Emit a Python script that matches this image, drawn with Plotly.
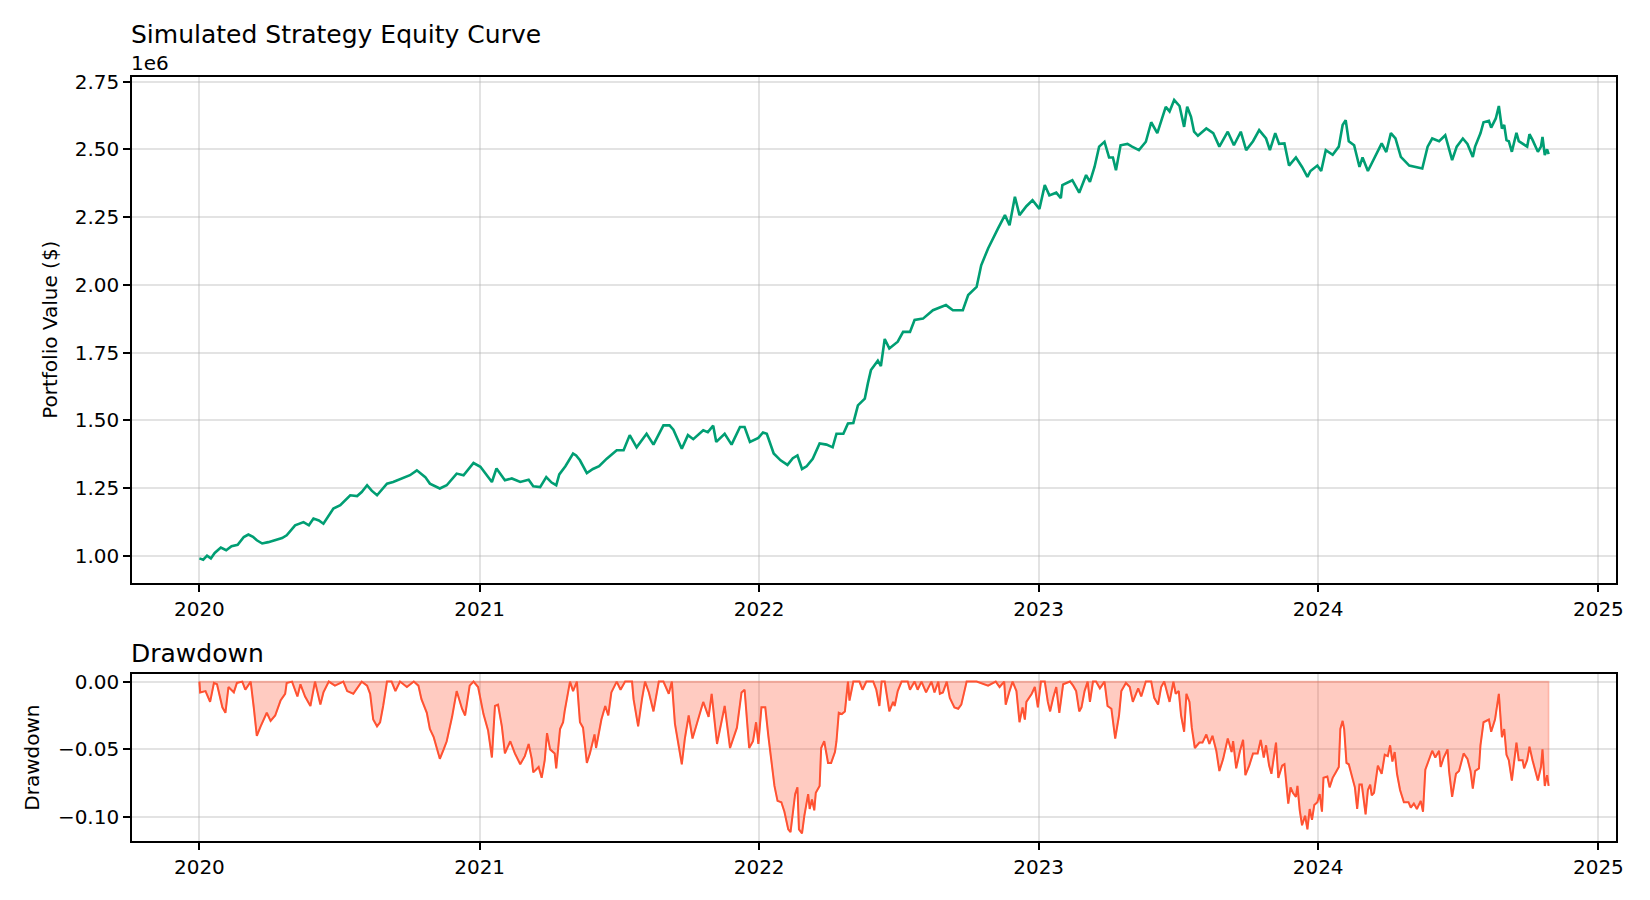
import pandas as pd
import plotly.graph_objects as go
from plotly.subplots import make_subplots

# equity curve: days since 2020-01-01, value in $M
eq_days = [0, 5, 10, 15, 20, 28, 35, 42, 50, 58, 64, 70, 75, 82, 90, 101, 108, 114, 125, 136,
           143, 149, 156, 162, 175, 184, 197, 206, 212, 219, 225, 232, 245, 253, 264, 275, 284, 290, 295, 301,
           308, 314, 323, 336, 345, 352, 358, 367, 375, 382, 388, 394, 399, 408, 419, 430, 436, 445, 453, 460,
           466, 470, 478, 488, 492, 497, 506, 514, 522, 532, 545, 554, 562, 571, 584, 593, 606, 614, 619, 630,
           638, 645, 658, 664, 671, 675, 686, 695, 706, 712, 719, 730, 736, 741, 750, 759, 768, 775, 781, 787,
           793, 801, 810, 819, 827, 832, 841, 847, 854, 860, 869, 873, 877, 886, 890, 895, 901, 912, 919, 928,
           934, 945, 958, 975, 984, 997, 1004, 1015, 1021, 1030, 1036, 1043, 1052, 1058, 1065, 1071, 1080, 1088, 1097, 1104,
           1110, 1119, 1125, 1127, 1140, 1149, 1158, 1163, 1169, 1175, 1182, 1188, 1193, 1197, 1203, 1212, 1218, 1227, 1236, 1243,
           1251, 1262, 1267, 1273, 1280, 1286, 1290, 1295, 1299, 1304, 1315, 1324, 1332, 1343, 1351, 1360, 1367, 1376, 1384, 1393,
           1398, 1405, 1410, 1417, 1423, 1432, 1440, 1447, 1451, 1460, 1465, 1471, 1480, 1488, 1493, 1497, 1501, 1508, 1515, 1519,
           1526, 1536, 1544, 1550, 1556, 1562, 1569, 1580, 1589, 1597, 1604, 1610, 1619, 1627, 1636, 1642, 1650, 1656, 1663, 1666,
           1673, 1677, 1684, 1687, 1693, 1697, 1701, 1704, 1707, 1710, 1714, 1720, 1723, 1728, 1734, 1737, 1741, 1748, 1752, 1754,
           1757, 1760, 1762]
eq_vals = [0.990, 0.985, 1.000, 0.990, 1.010, 1.030, 1.020, 1.035, 1.040, 1.069, 1.078, 1.070, 1.057, 1.045, 1.050, 1.059, 1.065, 1.075, 1.112, 1.124,
           1.112, 1.137, 1.130, 1.118, 1.174, 1.186, 1.223, 1.220, 1.235, 1.260, 1.240, 1.223, 1.266, 1.272, 1.285, 1.297, 1.315, 1.300, 1.290, 1.266,
           1.255, 1.248, 1.260, 1.303, 1.297, 1.320, 1.342, 1.328, 1.300, 1.272, 1.322, 1.300, 1.278, 1.285, 1.272, 1.280, 1.256, 1.253, 1.290, 1.270,
           1.260, 1.300, 1.330, 1.377, 1.370, 1.352, 1.305, 1.320, 1.330, 1.358, 1.389, 1.389, 1.445, 1.400, 1.450, 1.410, 1.481, 1.481, 1.465, 1.395,
           1.445, 1.430, 1.463, 1.456, 1.480, 1.420, 1.450, 1.410, 1.475, 1.475, 1.420, 1.435, 1.455, 1.450, 1.377, 1.352, 1.335, 1.360, 1.370, 1.320,
           1.330, 1.358, 1.414, 1.410, 1.400, 1.450, 1.450, 1.488, 1.490, 1.555, 1.580, 1.636, 1.685, 1.720, 1.700, 1.800, 1.765, 1.790, 1.826, 1.826,
           1.870, 1.875, 1.906, 1.925, 1.906, 1.906, 1.962, 1.992, 2.072, 2.134, 2.171, 2.208, 2.257, 2.220, 2.325, 2.257, 2.290, 2.312, 2.280, 2.368,
           2.330, 2.340, 2.320, 2.368, 2.386, 2.340, 2.405, 2.380, 2.435, 2.510, 2.528, 2.470, 2.470, 2.423, 2.515, 2.520, 2.510, 2.497, 2.528, 2.600,
           2.560, 2.657, 2.640, 2.682, 2.660, 2.583, 2.657, 2.620, 2.565, 2.550, 2.577, 2.560, 2.510, 2.565, 2.515, 2.565, 2.497, 2.530, 2.571, 2.540,
           2.497, 2.560, 2.520, 2.522, 2.440, 2.470, 2.435, 2.398, 2.420, 2.440, 2.420, 2.497, 2.480, 2.510, 2.590, 2.608, 2.530, 2.515, 2.435, 2.470,
           2.420, 2.480, 2.522, 2.490, 2.560, 2.540, 2.472, 2.440, 2.435, 2.429, 2.510, 2.540, 2.530, 2.552, 2.460, 2.510, 2.540, 2.520, 2.472, 2.510,
           2.559, 2.600, 2.605, 2.580, 2.614, 2.660, 2.577, 2.590, 2.534, 2.530, 2.491, 2.561, 2.530, 2.520, 2.510, 2.556, 2.535, 2.491, 2.510, 2.546,
           2.479, 2.500, 2.482]

# drawdown: days since 2020-01-01, fraction below peak
dd_days = [0, 1, 8, 14, 19, 23, 30, 34, 38, 45, 49, 56, 60, 67, 71, 75, 80, 88, 93, 99,
           106, 112, 114, 121, 128, 132, 138, 145, 151, 158, 162, 169, 177, 188, 193, 201, 212, 219, 223, 227,
           232, 236, 240, 245, 251, 256, 262, 271, 280, 286, 290, 297, 301, 306, 310, 314, 319, 323, 330, 336,
           343, 347, 353, 358, 364, 371, 377, 382, 386, 390, 395, 399, 406, 412, 419, 425, 430, 434, 436, 443,
           447, 451, 454, 458, 464, 466, 471, 475, 477, 484, 488, 493, 497, 501, 506, 510, 516, 518, 525, 530,
           534, 538, 545, 550, 556, 565, 567, 573, 578, 582, 587, 593, 600, 606, 613, 617, 621, 630, 634, 639,
           644, 652, 658, 665, 669, 676, 680, 686, 693, 702, 708, 712, 718, 723, 727, 730, 734, 739, 743, 747,
           751, 755, 760, 764, 769, 772, 775, 778, 781, 783, 787, 790, 795, 797, 800, 803, 805, 810, 812, 816,
           821, 825, 830, 832, 835, 839, 843, 847, 849, 854, 862, 866, 871, 880, 884, 888, 891, 895, 901, 906,
           908, 912, 917, 925, 928, 934, 938, 943, 949, 956, 960, 965, 967, 971, 976, 980, 986, 991, 995, 999,
           1002, 1015, 1030, 1040, 1045, 1051, 1053, 1058, 1062, 1067, 1071, 1075, 1078, 1080, 1087, 1091, 1095, 1099, 1104, 1108,
           1111, 1115, 1119, 1123, 1128, 1137, 1141, 1145, 1149, 1152, 1156, 1160, 1163, 1167, 1171, 1176, 1182, 1186, 1191, 1196,
           1201, 1204, 1210, 1215, 1219, 1226, 1230, 1236, 1243, 1247, 1252, 1256, 1260, 1267, 1272, 1275, 1279, 1282, 1286, 1289,
           1293, 1296, 1300, 1306, 1310, 1315, 1319, 1323, 1328, 1332, 1337, 1343, 1348, 1350, 1354, 1359, 1363, 1366, 1371, 1376,
           1382, 1386, 1390, 1393, 1397, 1400, 1404, 1406, 1409, 1414, 1417, 1420, 1422, 1425, 1428, 1432, 1434, 1437, 1440, 1444,
           1447, 1450, 1453, 1456, 1460, 1463, 1466, 1468, 1473, 1476, 1480, 1484, 1488, 1490, 1493, 1495, 1498, 1501, 1506, 1509,
           1512, 1515, 1518, 1523, 1526, 1529, 1531, 1534, 1539, 1544, 1548, 1552, 1555, 1558, 1561, 1564, 1568, 1573, 1579, 1582,
           1586, 1590, 1595, 1598, 1601, 1604, 1610, 1614, 1619, 1621, 1625, 1630, 1632, 1636, 1641, 1645, 1651, 1656, 1660, 1663,
           1666, 1671, 1673, 1677, 1684, 1687, 1692, 1697, 1701, 1704, 1707, 1710, 1714, 1720, 1723, 1728, 1730, 1734, 1737, 1741,
           1748, 1752, 1754, 1757, 1760, 1762]
dd_vals = [0.000, -0.008, -0.007, -0.015, -0.001, -0.002, -0.019, -0.023, -0.004, -0.008, -0.001, 0.000, -0.006, 0.000, -0.019, -0.040, -0.033, -0.023, -0.029, -0.025,
           -0.014, -0.009, -0.001, 0.000, -0.011, -0.002, -0.011, -0.018, 0.000, -0.017, -0.008, 0.000, -0.003, 0.000, -0.007, -0.009, 0.000, -0.003, -0.009, -0.028,
           -0.033, -0.030, -0.018, 0.000, 0.000, -0.007, 0.000, -0.004, 0.000, -0.003, -0.013, -0.023, -0.035, -0.041, -0.049, -0.057, -0.050, -0.044, -0.026, -0.007,
           -0.020, -0.025, -0.003, 0.000, -0.004, -0.024, -0.036, -0.056, -0.018, -0.017, -0.033, -0.053, -0.044, -0.053, -0.061, -0.055, -0.046, -0.057, -0.067, -0.063,
           -0.071, -0.058, -0.038, -0.050, -0.053, -0.064, -0.035, -0.030, -0.022, 0.000, -0.007, 0.000, -0.030, -0.034, -0.060, -0.053, -0.039, -0.049, -0.028, -0.018,
           -0.025, -0.008, 0.000, -0.006, 0.000, 0.000, -0.013, -0.033, -0.013, 0.000, -0.008, -0.022, 0.000, 0.000, -0.009, 0.000, -0.031, -0.061, -0.042, -0.025,
           -0.042, -0.026, -0.015, -0.026, -0.009, -0.046, -0.035, -0.018, -0.049, -0.034, -0.008, -0.006, -0.049, -0.044, -0.030, -0.046, -0.019, -0.019, -0.040, -0.059,
           -0.077, -0.088, -0.089, -0.096, -0.109, -0.111, -0.098, -0.083, -0.078, -0.109, -0.112, -0.099, -0.083, -0.094, -0.087, -0.095, -0.082, -0.077, -0.049, -0.044,
           -0.060, -0.060, -0.052, -0.044, -0.023, -0.024, -0.022, 0.000, -0.014, 0.000, 0.000, -0.006, 0.000, 0.000, -0.006, -0.018, 0.000, 0.000, -0.022, -0.015,
           -0.018, -0.007, 0.000, 0.000, -0.006, 0.000, -0.006, 0.000, -0.008, 0.000, -0.008, 0.000, -0.009, -0.008, 0.000, -0.012, -0.019, -0.020, -0.017, -0.007,
           0.000, 0.000, -0.003, 0.000, -0.004, 0.000, -0.017, -0.007, 0.000, -0.007, -0.030, -0.019, -0.028, -0.015, -0.009, -0.004, -0.019, 0.000, 0.000, -0.015,
           -0.022, -0.012, -0.004, -0.023, -0.002, 0.000, -0.003, -0.007, -0.022, -0.019, -0.007, 0.000, -0.015, 0.000, 0.000, -0.005, 0.000, -0.018, -0.020, -0.042,
           -0.025, -0.007, -0.001, -0.004, -0.015, -0.005, -0.011, 0.000, 0.000, -0.012, -0.017, -0.004, 0.000, -0.015, 0.000, -0.009, -0.007, -0.025, -0.037, -0.009,
           -0.015, -0.034, -0.049, -0.045, -0.045, -0.039, -0.046, -0.040, -0.051, -0.066, -0.057, -0.042, -0.052, -0.044, -0.064, -0.051, -0.043, -0.069, -0.062, -0.053,
           -0.053, -0.043, -0.056, -0.047, -0.062, -0.068, -0.051, -0.045, -0.071, -0.062, -0.061, -0.078, -0.090, -0.078, -0.082, -0.085, -0.077, -0.095, -0.106, -0.099,
           -0.109, -0.094, -0.102, -0.091, -0.089, -0.083, -0.096, -0.071, -0.070, -0.078, -0.071, -0.067, -0.063, -0.035, -0.029, -0.035, -0.060, -0.061, -0.072, -0.078,
           -0.094, -0.076, -0.076, -0.098, -0.080, -0.076, -0.084, -0.082, -0.062, -0.068, -0.054, -0.055, -0.047, -0.059, -0.052, -0.068, -0.080, -0.089, -0.089, -0.093,
           -0.090, -0.094, -0.088, -0.096, -0.065, -0.060, -0.051, -0.056, -0.051, -0.063, -0.056, -0.050, -0.066, -0.085, -0.068, -0.066, -0.053, -0.057, -0.066, -0.079,
           -0.066, -0.064, -0.047, -0.030, -0.028, -0.037, -0.028, -0.009, -0.041, -0.035, -0.054, -0.058, -0.073, -0.045, -0.058, -0.058, -0.064, -0.058, -0.048, -0.058,
           -0.073, -0.063, -0.050, -0.077, -0.069, -0.077]

start = pd.Timestamp("2020-01-01")
eq_dates = start + pd.to_timedelta(eq_days, unit="D")
dd_dates = start + pd.to_timedelta(dd_days, unit="D")

GREEN = "#009E73"
RED = "#FF5232"
FONT = "DejaVu Sans"

fig = make_subplots(rows=2, cols=1, shared_xaxes=False, vertical_spacing=0.1)

fig.add_trace(go.Scatter(x=eq_dates, y=eq_vals, mode="lines",
                         line=dict(color=GREEN, width=2.6)), row=1, col=1)

# filled area between 0 and the drawdown, with its faint outline like fill_between
poly_x = list(dd_dates) + list(dd_dates[::-1])
poly_y = list(dd_vals) + [0.0] * len(dd_vals)
fig.add_trace(go.Scatter(x=poly_x, y=poly_y, mode="lines", fill="toself",
                         fillcolor="rgba(255,82,50,0.3)",
                         line=dict(color="rgba(255,82,50,0.3)", width=1.6)), row=2, col=1)
fig.add_trace(go.Scatter(x=dd_dates, y=dd_vals, mode="lines",
                         line=dict(color=RED, width=2)), row=2, col=1)

xr = [start - pd.Timedelta(days=88), start + pd.Timedelta(days=1850)]
axis_common = dict(showline=True, linecolor="black", linewidth=1.6, mirror=True,
                   ticks="outside", ticklen=7, tickwidth=1.6, tickcolor="black",
                   showgrid=True, gridcolor="rgba(176,176,176,0.35)", gridwidth=1.6,
                   zeroline=False, tickfont=dict(family=FONT, size=20, color="black"))

fig.update_xaxes(range=xr, dtick="M12", tick0="2020-01-01", tickformat="%Y", **axis_common)
fig.update_yaxes(**axis_common)
fig.update_yaxes(range=[0.90, 2.767], dtick=0.25, tickformat=".2f", domain=[0.338, 1.0], row=1, col=1)
fig.update_yaxes(range=[-0.1176, 0.0056], dtick=0.05, tickformat=".2f", domain=[0.0, 0.2186], row=2, col=1)

txt = dict(family=FONT, color="black")
# the page body adds an 8px margin, so the figure is a little smaller and shifted
fig.update_layout(
    width=1634, height=884,
    margin=dict(l=124, r=26, t=69, b=51),
    plot_bgcolor="white", paper_bgcolor="white",
    showlegend=False,
    annotations=[
        dict(text="Simulated Strategy Equity Curve", x=-0.002, y=1.056, xref="paper", yref="paper",
             xanchor="left", yanchor="middle", showarrow=False, font=dict(size=25, **txt)),
        dict(text="1e6", x=-0.002, y=1.0177, xref="paper", yref="paper",
             xanchor="left", yanchor="middle", showarrow=False, font=dict(size=20, **txt)),
        dict(text="Drawdown", x=-0.002, y=0.246, xref="paper", yref="paper",
             xanchor="left", yanchor="middle", showarrow=False, font=dict(size=25, **txt)),
        dict(text="Portfolio Value ($)", x=-0.0553, y=0.669, xref="paper", yref="paper",
             xanchor="center", yanchor="middle", textangle=-90, showarrow=False,
             font=dict(size=20, **txt)),
        dict(text="Drawdown", x=-0.0674, y=0.109, xref="paper", yref="paper",
             xanchor="center", yanchor="middle", textangle=-90, showarrow=False,
             font=dict(size=20, **txt)),
    ],
)

fig.write_html("out.html")
